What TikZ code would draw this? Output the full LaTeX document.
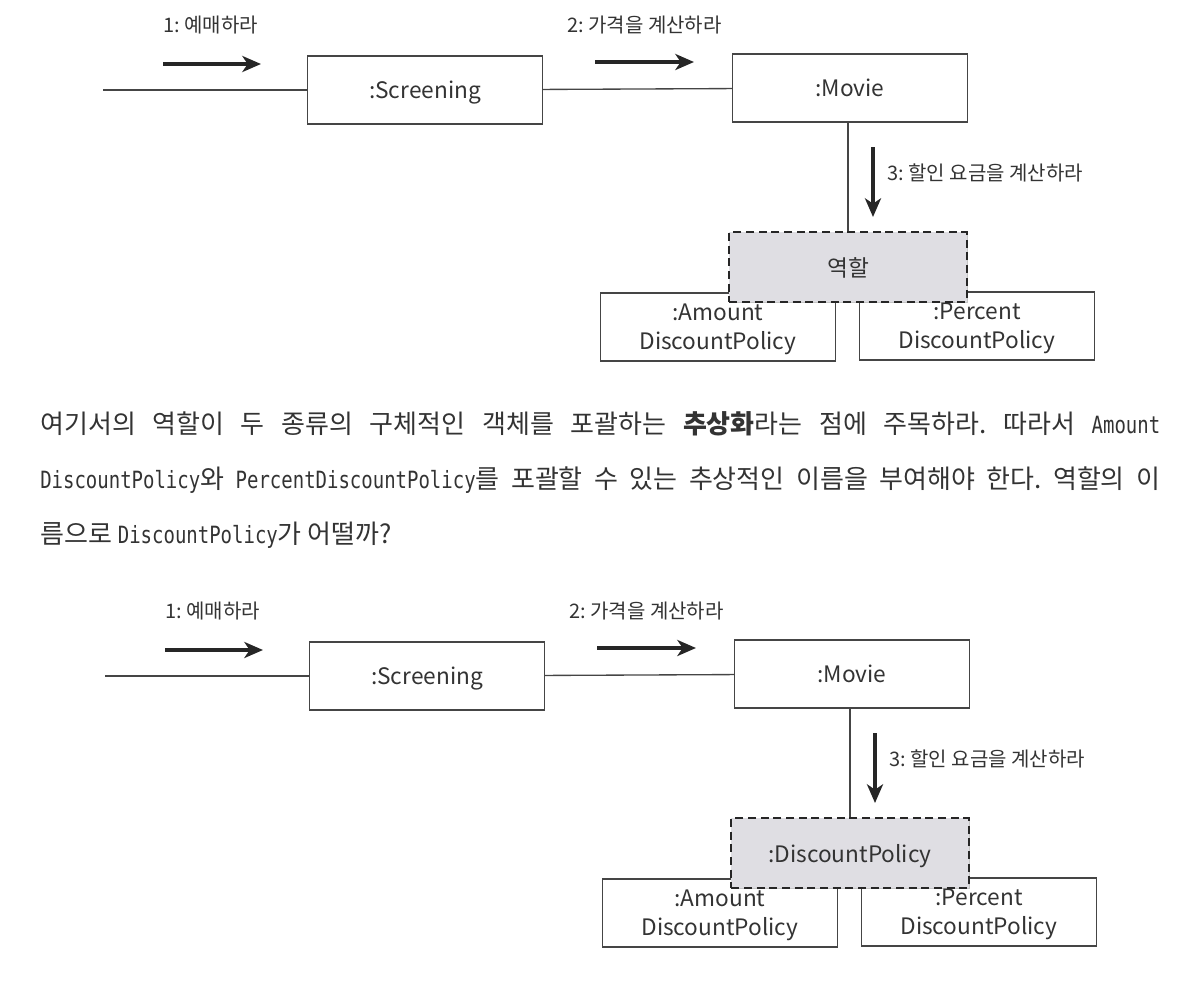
\documentclass[tikz,border=0pt]{standalone}
\usepackage{fontspec}
\usepackage{graphicx}
\setmainfont{Noto Sans CJK KR}
\newfontfamily\codefont{DejaVu Sans Mono}
\newcommand\codeword[1]{\scalebox{0.8}[1]{\codefont\fontsize{17.8}{22}\selectfont #1}}
\usetikzlibrary{arrows.meta,positioning,shadows}

\definecolor{boxline}{HTML}{454545}
\definecolor{rolefill}{HTML}{DFDEE3}
\definecolor{inktext}{HTML}{333333}

\begin{document}
\frenchspacing
\begin{tikzpicture}[x=0.75pt, y=-0.75pt,
  object/.style={rectangle, draw=boxline, line width=1.2pt, fill=white, minimum width=176pt, minimum height=51pt, inner sep=0pt, font=\fontsize{17}{22}\selectfont, text=inktext, text depth=0pt, align=center, drop shadow={shadow xshift=0.7pt, shadow yshift=-0.9pt, opacity=0.45}},
  role/.style={object, draw=black!85, fill=rolefill, dash pattern=on 6pt off 3.5pt, line width=1.6pt, minimum width=178pt, minimum height=52pt},
  msg/.style={draw=black!85, line width=2.6pt, -{Stealth[length=14pt, width=12pt, inset=4pt]}},
  link/.style={draw=boxline, line width=1pt},
  label/.style={font=\fontsize{15}{17}\selectfont, text=inktext, inner sep=0pt, anchor=west},
  para/.style={font=\fontsize{19.5}{22}\selectfont, text=inktext, inner sep=0pt, anchor=base west}
]
  \useasboundingbox (0,0) rectangle (1182,1000);

  % the same collaboration, once with the bare role and once with its name
  \foreach \d/\dx/\dy/\rolename in {a/0/0/역할, b/2/586/{:DiscountPolicy}} {
    \begin{scope}[shift={(\dx,\dy)}]
      \node[object] (scr\d) at (425,90) {:Screening};
      \node[object] (mov\d) at (850,88) {:Movie};
      \node[object] (amt\d) at (718,327) {:Amount\\DiscountPolicy};
      \node[object] (pct\d) at (977,326) {:Percent\\DiscountPolicy};
      \node[role] (rol\d) at (848,267) {\rolename};

      % links
      \coordinate (in\d) at (103,90);
      \draw[link] (in\d) -- (scr\d.west);
      \draw[link] (scr\d) -- (mov\d);
      \draw[link] (rol\d.north) -- (rol\d.north |- mov\d.south);

      % messages
      \node[label] (ma\d) at (163,25) {1: 예매하라};
      \node[label] (mb\d) at (567,25) {2: 가격을 계산하라};
      \node[label] (mc\d) at (887,173) {3: 할인 요금을 계산하라};
      \coordinate (a1\d) at (163,64);
      \coordinate (a2\d) at (261,64);
      \coordinate (b1\d) at (595,62);
      \coordinate (b2\d) at (694,62);
      \coordinate (c1\d) at (873,147);
      \coordinate (c2\d) at (873,217);
      \draw[msg] (a1\d) -- (a2\d);
      \draw[msg] (b1\d) -- (b2\d);
      \draw[msg] (c1\d) -- (c2\d);
    \end{scope}
  }

  % text between the two diagrams
  \node[para] (p1) at (40,433) {\makebox[840pt][s]{여기서의 역할이 두 종류의 구체적인 객체를 포괄하는 \textbf{추상화}라는 점에 주목하라. 따라서 \codeword{Amount}}};
  \node[para] (p2) at (40,488) {\makebox[840pt][s]{\codeword{DiscountPolicy}와 \codeword{PercentDiscountPolicy}를 포괄할 수 있는 추상적인 이름을 부여해야 한다. 역할의 이}};
  \node[para] (p3) at (40,543) {름으로 \codeword{DiscountPolicy}가 어떨까?};
\end{tikzpicture}
\end{document}
